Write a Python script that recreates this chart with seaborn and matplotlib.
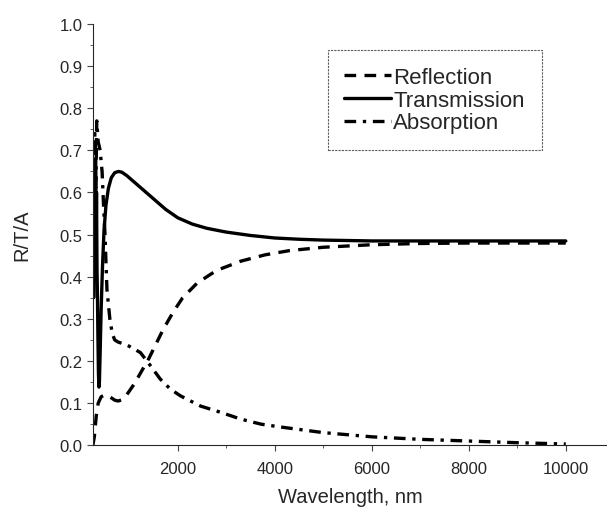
import numpy as np
import pandas as pd
import matplotlib.pyplot as plt
import seaborn as sns

plt.switch_backend('Agg')
sns.set_theme(style="ticks")
plt.rcParams['font.family'] = ['Liberation Sans', 'DejaVu Sans']

# Data (wavelength in nm)
wl_T = [250, 265, 280, 295, 305, 315, 325, 335, 345, 355, 365, 375, 385, 400, 420, 450, 480,
        520, 570, 630, 700, 780, 850, 950, 1100, 1300, 1500, 1750, 2000, 2300, 2600, 3000,
        3500, 4000, 4500, 5000, 6000, 8000, 10000]
trans = [0.62, 0.35, 0.66, 0.4, 0.68, 0.45, 0.6, 0.42, 0.35, 0.25, 0.17, 0.138, 0.15, 0.22,
         0.32, 0.43, 0.51, 0.57, 0.61, 0.635, 0.647, 0.65, 0.648, 0.64, 0.625, 0.605, 0.585,
         0.56, 0.54, 0.525, 0.515, 0.506, 0.498, 0.492, 0.489, 0.487, 0.485, 0.485, 0.485]

wl_R = [250, 280, 320, 360, 420, 500, 600, 700, 770, 850, 950, 1100, 1250, 1400, 1550, 1700,
        1900, 2100, 2400, 2800, 3300, 3800, 4300, 5000, 6000, 7000, 8000, 10000]
refl = [0.0, 0.02, 0.07, 0.1, 0.115, 0.12, 0.115, 0.107, 0.105, 0.108, 0.12, 0.145, 0.175,
        0.205, 0.24, 0.275, 0.315, 0.35, 0.385, 0.415, 0.437, 0.452, 0.462, 0.47, 0.476,
        0.479, 0.48, 0.48]

wl_A = [250, 270, 290, 310, 330, 360, 400, 440, 470, 500, 540, 600, 650, 700, 770, 900, 1000,
        1230, 1430, 1640, 1850, 2060, 2470, 2890, 3300, 3720, 4140, 5000, 6000, 7000, 8000,
        9000, 10000]
absorb = [0.68, 0.55, 0.74, 0.6, 0.77, 0.72, 0.7, 0.65, 0.57, 0.5, 0.37, 0.3, 0.265, 0.25,
          0.245, 0.24, 0.235, 0.22, 0.19, 0.157, 0.133, 0.117, 0.093, 0.078, 0.062, 0.05,
          0.043, 0.03, 0.02, 0.014, 0.01, 0.006, 0.003]

df_T = pd.DataFrame({'wl': wl_T, 'val': trans})
df_R = pd.DataFrame({'wl': wl_R, 'val': refl})
df_A = pd.DataFrame({'wl': wl_A, 'val': absorb})

fig = plt.figure(figsize=(6.07, 5.10), dpi=100)
ax = fig.add_axes([0.153, 0.125, 0.847, 0.826])

sns.lineplot(data=df_R, x='wl', y='val', ax=ax, color='black', lw=2.4,
             linestyle=(0, (3.5, 2.5)), label='Reflection')
sns.lineplot(data=df_T, x='wl', y='val', ax=ax, color='black', lw=2.4,
             linestyle='-', label='Transmission')
sns.lineplot(data=df_A, x='wl', y='val', ax=ax, color='black', lw=2.4,
             linestyle=(0, (3.5, 2, 1, 2)), label='Absorption')

ax.set_xlim(250, 10850)
ax.set_ylim(0, 1.0)
ax.set_xticks([2000, 4000, 6000, 8000, 10000])
ax.set_xticks(np.arange(3000, 10001, 2000), minor=True)
ax.set_yticks(np.arange(0, 1.01, 0.1))
ax.set_yticks(np.arange(0.05, 1.0, 0.1), minor=True)
ax.yaxis.set_major_formatter(plt.FormatStrFormatter('%.1f'))
ax.tick_params(axis='both', labelsize=12, length=4, width=0.8, color='#444444')
ax.tick_params(axis='x', pad=7)
ax.tick_params(which='minor', length=2, width=0.6, color='#444444')
ax.set_xlabel('Wavelength, nm', fontsize=14.5, labelpad=8)
ax.set_ylabel('R/T/A', fontsize=14.5, labelpad=20)

sns.despine(ax=ax)
for s in ['left', 'bottom']:
    ax.spines[s].set_linewidth(0.8)
    ax.spines[s].set_linestyle((0, (3, 1)))

leg = ax.legend(loc='upper left', bbox_to_anchor=(0.457, 0.938), fontsize=16,
                fancybox=False, handlelength=2.1, handletextpad=0.1,
                labelspacing=0.08, borderpad=0.75, borderaxespad=0, frameon=True)
leg.get_frame().set_edgecolor('#333333')
leg.get_frame().set_linewidth(0.8)
leg.get_frame().set_linestyle((0, (2, 1)))

fig.savefig('out.png', dpi=100)
